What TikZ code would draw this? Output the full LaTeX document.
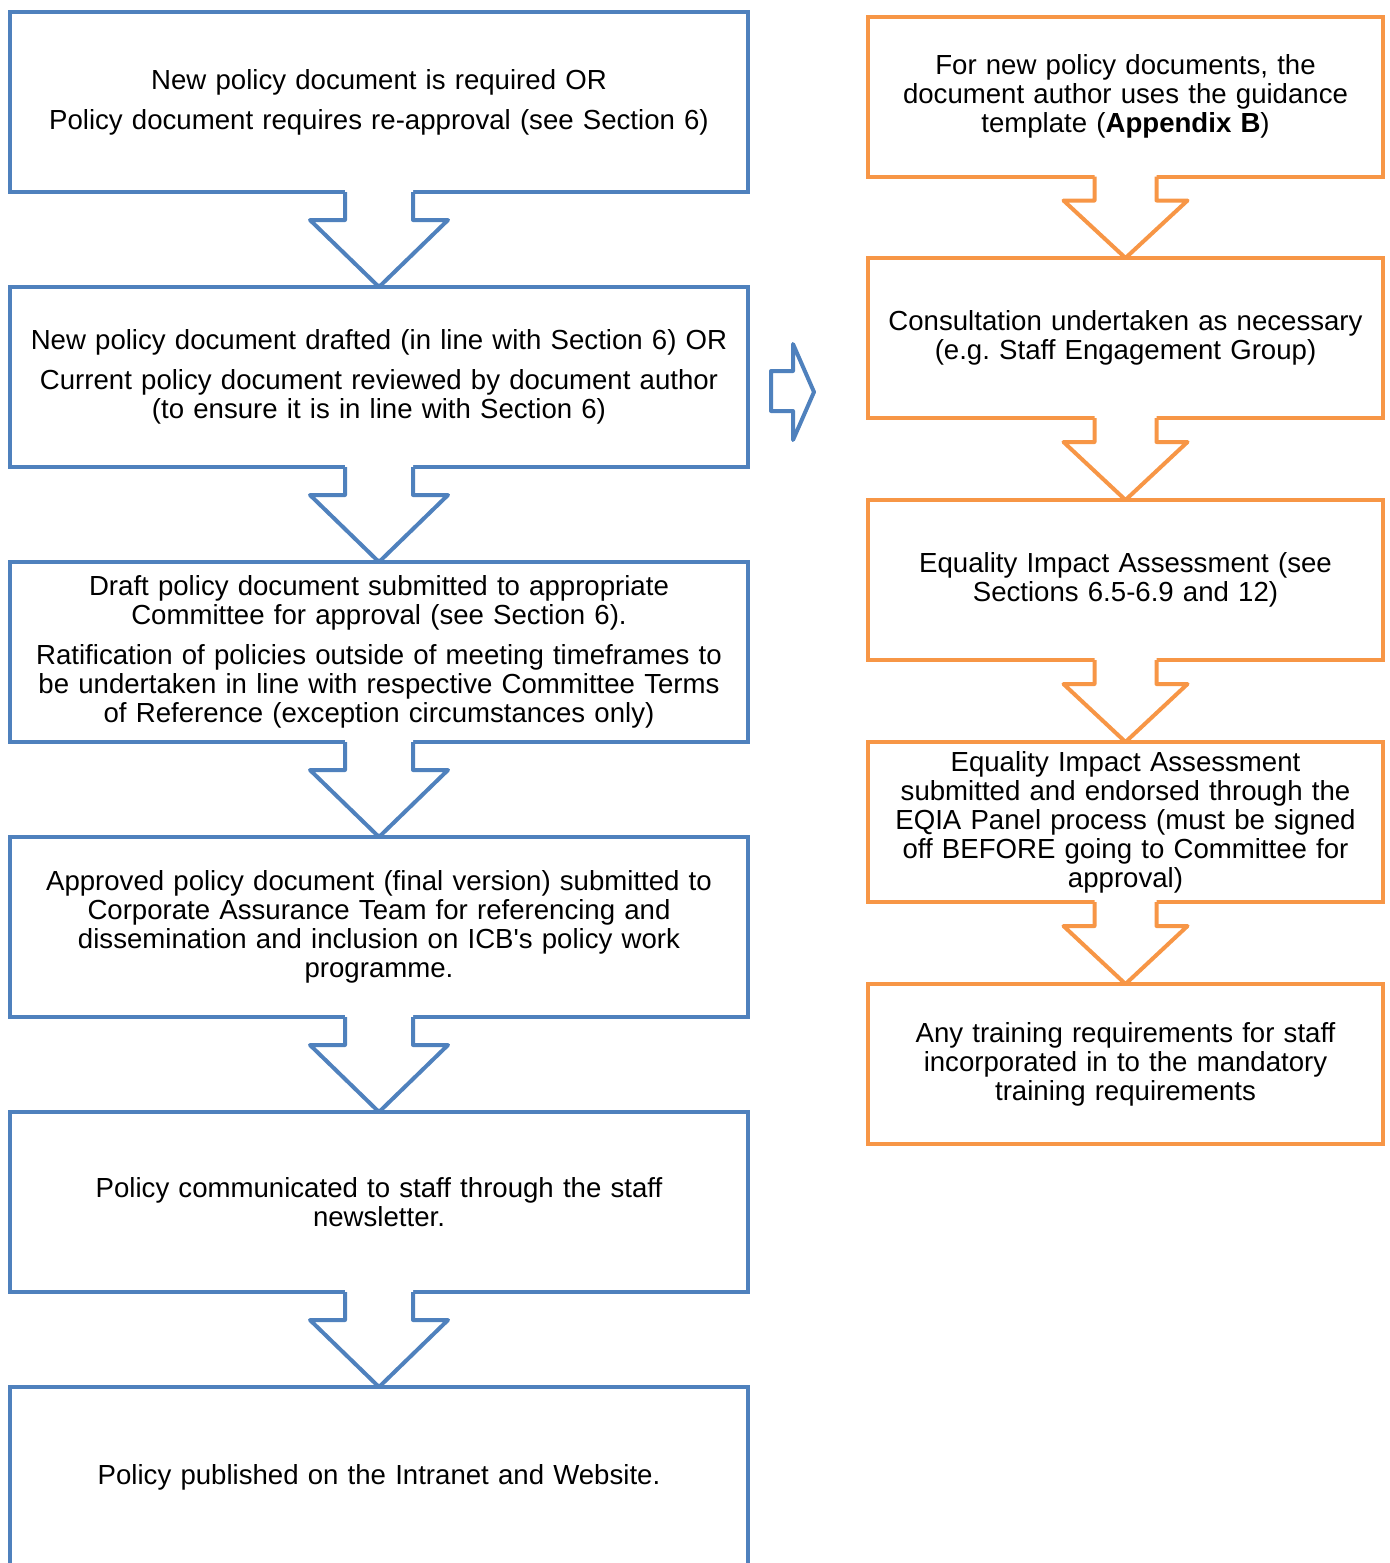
\documentclass[tikz,border=0pt]{standalone}
\usepackage{fontspec}
\setmainfont{Liberation Sans}
\usetikzlibrary{calc}
\definecolor{boxblue}{RGB}{79,129,189}
\definecolor{boxorange}{RGB}{247,150,70}
% #1 from node, #2 to node, #3 shaft half width, #4 head half width, #5 head offset, #6 colour
\newcommand{\flowarrow}[6]{%
  \fill[white] ($(#1.south)+(-#3,1.4pt)$) -- ($(#1.south)+(-#3,-#5)$) -- ($(#1.south)+(-#4,-#5)$) -- (#2.north)
     -- ($(#1.south)+(#4,-#5)$) -- ($(#1.south)+(#3,-#5)$) -- ($(#1.south)+(#3,1.4pt)$) -- cycle;
  \draw[draw=#6, flowline] ($(#1.south)+(-#3,0pt)$) -- ($(#1.south)+(-#3,-#5)$) -- ($(#1.south)+(-#4,-#5)$) -- (#2.north)
     -- ($(#1.south)+(#4,-#5)$) -- ($(#1.south)+(#3,-#5)$) -- ($(#1.south)+(#3,0pt)$);
}
\begin{document}
\begin{tikzpicture}[x=0.5pt,y=-0.5pt,
  flowline/.style={line width=2pt, line join=round},
  box/.style={draw, line width=2pt, outer sep=0pt, inner sep=2pt, align=center,
    font=\fontsize{13.8}{14.5}\selectfont},
  lbox/.style={box, draw=boxblue, minimum width=369pt, minimum height=90pt, text width=362pt},
  rbox/.style={box, draw=boxorange, minimum width=257.5pt, minimum height=80pt, text width=250pt}]
\useasboundingbox (0,0) rectangle (1389,1563);

% left column
\node[lbox] (l1) at (379,102) {New policy document is required OR\\[5.5pt]
  Policy document requires re-approval (see Section 6)};
\node[lbox] (l2) at (379,377) {New policy document drafted (in line with Section 6) OR\\[5.5pt]
  Current policy document reviewed by document author\\(to ensure it is in line with Section 6)};
\node[lbox] (l3) at (379,652) {Draft policy document submitted to appropriate\\Committee for approval (see Section 6).\\[5.5pt]
  Ratification of policies outside of meeting timeframes to\\be undertaken in line with respective Committee Terms\\of Reference (exception circumstances only)};
\node[lbox] (l4) at (379,927) {Approved policy document (final version) submitted to\\Corporate Assurance Team for referencing and\\dissemination and inclusion on ICB\textquotesingle s policy work\\programme.};
\node[lbox] (l5) at (379,1202) {Policy communicated to staff through the staff\\newsletter.};
\node[lbox] (l6) at (379,1477) {Policy published on the Intranet and Website.};

% right column
\node[rbox] (r1) at (1125.5,96.5) {For new policy documents, the\\document author uses the guidance\\template (\textbf{Appendix B})};
\node[rbox] (r2) at (1125.5,338) {Consultation undertaken as necessary\\(e.g.\ Staff Engagement Group)};
\node[rbox] (r3) at (1125.5,580) {Equality Impact Assessment (see\\Sections 6.5-6.9 and 12)};
\node[rbox] (r4) at (1125.5,822) {Equality Impact Assessment\\submitted and endorsed through the\\EQIA Panel process (must be signed\\off BEFORE going to Committee for\\approval)};
\node[rbox] (r5) at (1125.5,1064) {Any training requirements for staff\\incorporated in to the mandatory\\training requirements};

% down arrows
\flowarrow{l1}{l2}{17pt}{34.5pt}{14pt}{boxblue}
\flowarrow{l2}{l3}{17pt}{34.5pt}{14pt}{boxblue}
\flowarrow{l3}{l4}{17pt}{34.5pt}{14pt}{boxblue}
\flowarrow{l4}{l5}{17pt}{34.5pt}{14pt}{boxblue}
\flowarrow{l5}{l6}{17pt}{34.5pt}{14pt}{boxblue}
\flowarrow{r1}{r2}{15.5pt}{31pt}{12pt}{boxorange}
\flowarrow{r2}{r3}{15.5pt}{31pt}{12pt}{boxorange}
\flowarrow{r3}{r4}{15.5pt}{31pt}{12pt}{boxorange}
\flowarrow{r4}{r5}{15.5pt}{31pt}{12pt}{boxorange}

% right-pointing block arrow between the columns
\draw[draw=boxblue, fill=white, flowline] (771,371) -- (793,371) -- (793,344) -- (814,392) -- (793,440) -- (793,411) -- (771,411) -- cycle;
\end{tikzpicture}
\end{document}
